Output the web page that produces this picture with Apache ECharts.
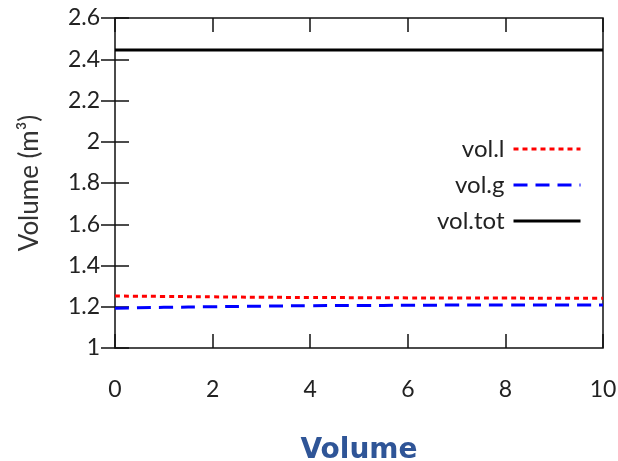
<!DOCTYPE html>
<html>
<head>
<meta charset="utf-8">
<script src="https://cdn.jsdelivr.net/npm/echarts@6/dist/echarts.min.js"></script>
<style>
  html, body { margin: 0; padding: 0; background: #fff; }
  #chart { width: 618px; height: 461px; }
</style>
</head>
<body>
<div id="chart"></div>
<script>
// Time samples and volumes of the liquid, gas and total phases
const times = [0, 1, 2, 3, 4, 5, 6, 7, 8, 9, 10];
const volL = [1.252, 1.250, 1.248, 1.246, 1.245, 1.244, 1.243, 1.242, 1.242, 1.241, 1.241];
const volG = [1.193, 1.197, 1.200, 1.203, 1.205, 1.206, 1.207, 1.208, 1.208, 1.209, 1.209];
const volTot = [2.445, 2.445, 2.445, 2.445, 2.445, 2.445, 2.445, 2.445, 2.445, 2.445, 2.445];
const seriesNames = ['vol.l', 'vol.g', 'vol.tot'];

const pairs = arr => times.map((t, i) => [t, arr[i]]);
const font = 'Lato';
const labelStyle = { fontFamily: font, fontSize: 23, color: '#222' };
const tickStyle = { inside: true, length: 14, lineStyle: { color: '#111', width: 1.5 } };

const chart = echarts.init(document.getElementById('chart'), null, { renderer: 'canvas' });
chart.setOption({
  animation: false,
  grid: {
    left: 115, right: 15, top: 18, bottom: 113,
    outerBoundsMode: 'none', containLabel: false,
    show: true, borderColor: '#111', borderWidth: 1.5
  },
  legend: {
    orient: 'vertical',
    right: 31,
    top: 132,
    align: 'right',
    itemWidth: 67,
    itemHeight: 14,
    itemGap: 12,
    itemStyle: { opacity: 0 },
    lineStyle: { width: 3 },
    textStyle: { fontFamily: font, fontSize: 24, color: '#222', padding: [0, 4, 0, 0] },
    data: seriesNames
  },
  xAxis: [{
    type: 'value', min: 0, max: 10, interval: 2,
    name: 'Volume', nameLocation: 'middle', nameGap: 89,
    nameTextStyle: { fontFamily: 'DejaVu Sans', fontSize: 28, fontWeight: 'bold', color: '#2F5597' },
    axisLine: { show: false },
    axisTick: tickStyle,
    axisLabel: Object.assign({ margin: 30 }, labelStyle),
    splitLine: { show: false }
  }, {
    type: 'value', min: 0, max: 10, interval: 2, position: 'top',
    axisLine: { show: false },
    axisTick: tickStyle,
    axisLabel: { show: false },
    splitLine: { show: false }
  }],
  yAxis: [{
    type: 'value', min: 1, max: 2.6, interval: 0.2,
    name: 'Volume (m³)', nameLocation: 'middle', nameGap: 72,
    nameTextStyle: { fontFamily: font, fontSize: 26, color: '#333' },
    axisLine: { show: false },
    axisTick: tickStyle,
    axisLabel: Object.assign({ margin: 15, formatter: v => String(+v.toFixed(1)) }, labelStyle),
    splitLine: { show: false }
  }, {
    type: 'value', min: 1, max: 2.6, interval: 0.2, position: 'right',
    axisLine: { show: false },
    axisTick: tickStyle,
    axisLabel: { show: false },
    splitLine: { show: false }
  }],
  series: [
    { name: seriesNames[0], type: 'line', data: pairs(volL), symbol: 'none', smooth: true,
      color: '#ff0000', lineStyle: { color: '#ff0000', width: 3, type: [5, 4] } },
    { name: seriesNames[1], type: 'line', data: pairs(volG), symbol: 'none', smooth: true,
      color: '#0000ff', lineStyle: { color: '#0000ff', width: 3, type: [14, 8] } },
    { name: seriesNames[2], type: 'line', data: pairs(volTot), symbol: 'none',
      color: '#000000', lineStyle: { color: '#000000', width: 3, type: 'solid' } }
  ]
});
</script>
</body>
</html>
